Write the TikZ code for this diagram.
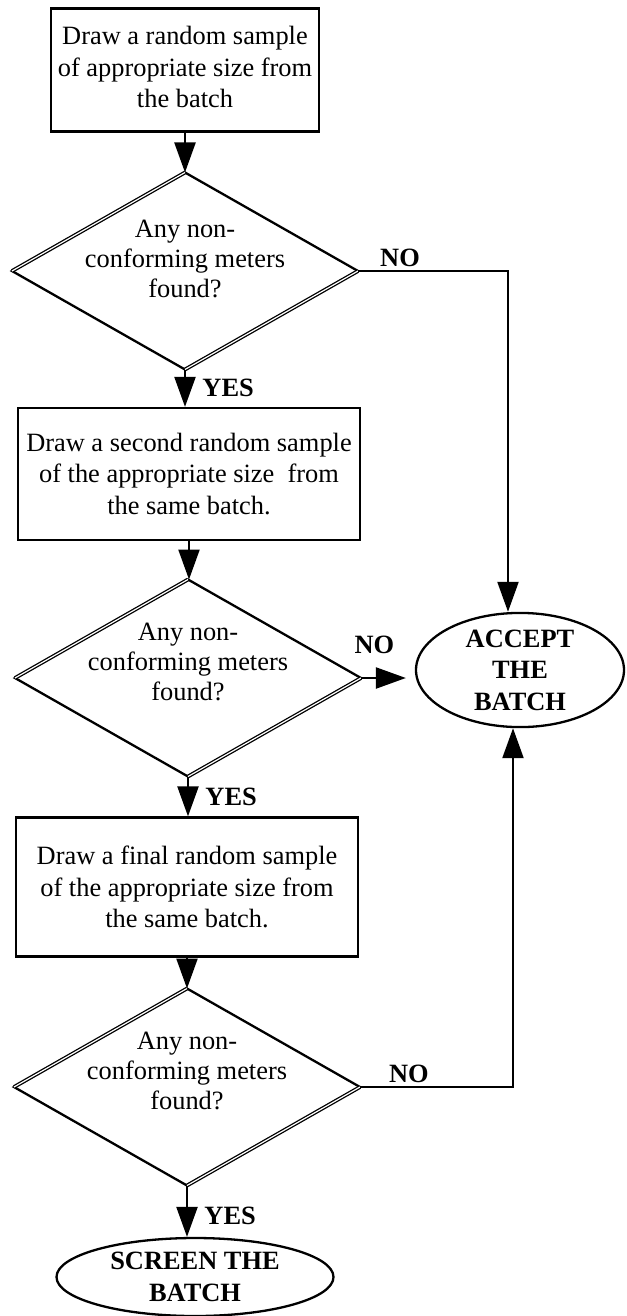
\documentclass[tikz,border=0pt]{standalone}
\usepackage{fontspec}
\setmainfont{Liberation Serif}
\usetikzlibrary{shapes.geometric,arrows.meta}
\newcommand{\chartfont}{\fontsize{26.4}{31.5}\selectfont}

\begin{document}
\begin{tikzpicture}[x=1pt, y=-1pt,
    every node/.style={font=\chartfont},
    stepbox/.style={rectangle, draw, line width=2.3pt, align=center, inner sep=0pt},
    decision/.style={diamond, draw, line width=2.3pt, inner sep=0pt, outer sep=0pt, minimum width=346pt, minimum height=197pt},
    question/.style={align=center, font=\fontsize{26.4}{30}\selectfont},
    twin/.style={line width=1.3pt, double=white, double distance=1.2pt},
    terminal/.style={ellipse, draw, line width=2.3pt, align=center, inner sep=0pt, font=\chartfont\bfseries},
    flow/.style={line width=2.3pt, -{Triangle[length=30pt, width=21pt]}},
    answer/.style={font=\chartfont\bfseries}]
      \useasboundingbox (0,0) rectangle (626,1316);

      % Nodes
      \node (sample1) [stepbox, minimum width=268pt, minimum height=123pt] at (185,70) {Draw a random sample\\of appropriate size from\\the batch\vphantom{y}};
      \node (check1) [decision] at (185,271) {};
      \node (q1) [question] at ([yshift=12pt]check1.center) {Any non-\\conforming meters\\found?};
      \node (sample2) [stepbox, minimum width=342pt, minimum height=132pt] at (189,474) {Draw a second random sample\\of the appropriate size\ \ from\\the same batch.};
      \node (check2) [decision] at (188,678) {};
      \node (q2) [question] at ([yshift=16pt]check2.center) {Any non-\\conforming meters\\found?};
      \node (sample3) [stepbox, minimum width=342pt, minimum height=139pt] at (187,887) {Draw a final random sample\\of the appropriate size from\\the same batch.};
      \node (check3) [decision] at (187,1087) {};
      \node (q3) [question] at ([yshift=16pt]check3.center) {Any non-\\conforming meters\\found?};
      \node (accept) [terminal, minimum width=208pt, minimum height=114pt] at (520,670) {ACCEPT\\THE\\BATCH};
      \node (screen) [terminal, minimum width=277pt, minimum height=78pt] at (195,1277) {SCREEN THE\\BATCH};

      % Double edges of the diamonds
      \draw [twin] (check1.west) -- (check1.north) (check1.east) -- (check1.south);
      \draw [twin] (check2.west) -- (check2.north) (check2.east) -- (check2.south);
      \draw [twin] (check3.west) -- (check3.north) (check3.east) -- (check3.south);

      % Arrows
      \draw [flow] (sample1) -- (check1);
      \draw [flow] (check1.south) -- (check1.south |- sample2.north) node [answer, right, midway, xshift=13pt] {YES};
      \draw [flow] (sample2.south) -- (sample2.south |- check2.north);
      \draw [flow] (check2.south) -- (check2.south |- sample3.north) node [answer, right, midway, xshift=13pt] {YES};
      \draw [flow] (sample3) -- (check3);
      \draw [flow] (check3.south) -- (check3.south |- screen.north) node [answer, right, pos=0.6, xshift=13pt] {YES};
      \draw [flow] (check1.east) -| ([xshift=-12pt]accept.north) node [answer, pos=0.14, above] {NO};
      \draw [flow, shorten >=9pt] (check2.east) -- (check2.east -| accept.west) node [answer, pos=0.25, above, yshift=20pt] {NO};
      \draw [flow] (check3.east) -| ([xshift=-7pt]accept.south) node [answer, pos=0.16, above] {NO};
  \end{tikzpicture}
\end{document}
